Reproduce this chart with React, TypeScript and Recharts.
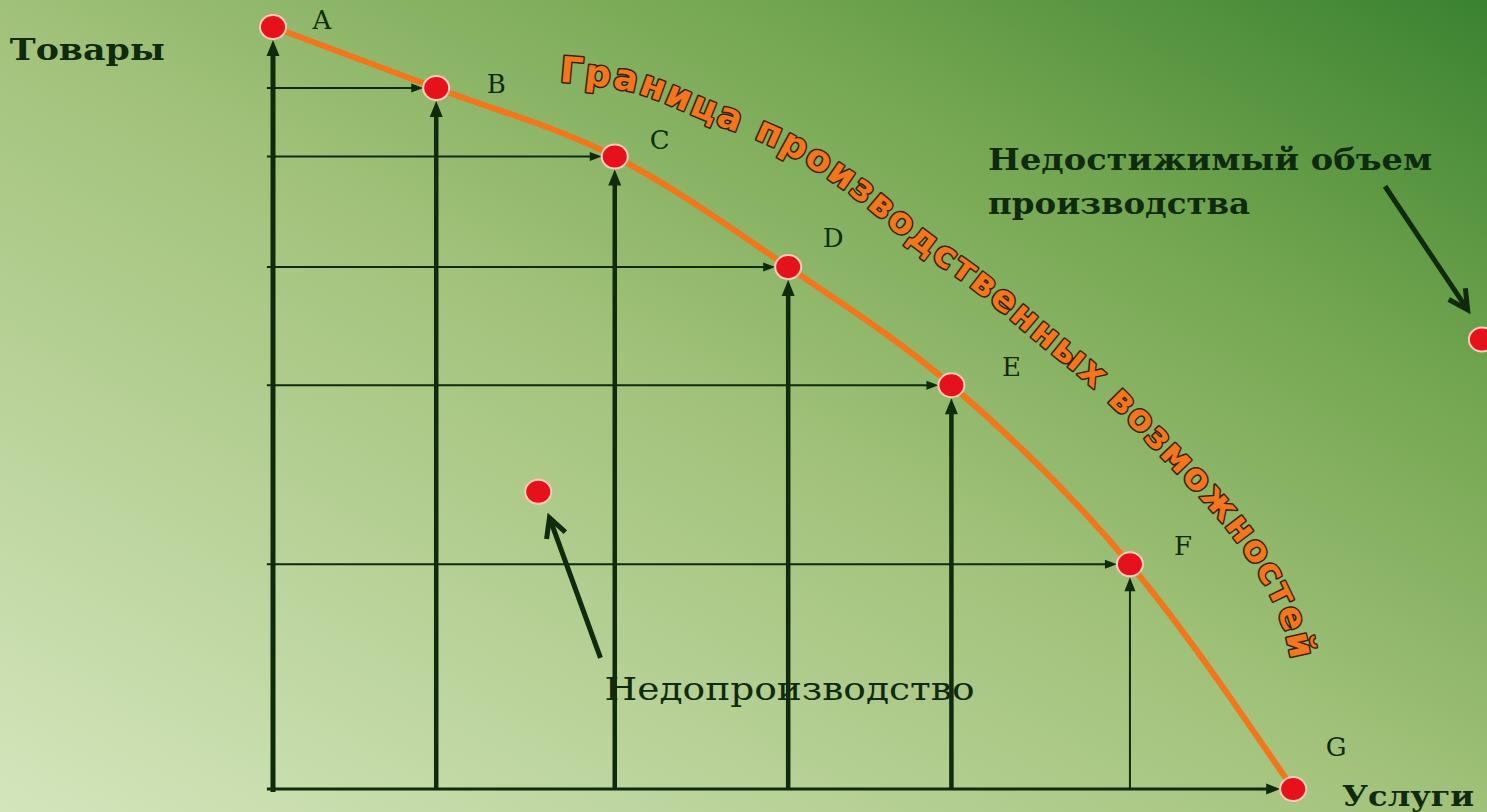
import React from 'react';
import { ComposedChart, Line, Scatter, XAxis, YAxis, ReferenceLine, LabelList } from 'recharts';

// ---------- data ----------
const pointNames = ['A', 'B', 'C', 'D', 'E', 'F', 'G'];
const servicesValues = [0, 1.6, 3.35, 5.05, 6.65, 8.4, 10];
const goodsValues = [10, 9.2, 8.3, 6.85, 5.3, 2.95, 0];

const offNames = ['inside', 'outside'];
const offServices = [2.6, 11.85];
const offGoods = [3.9, 5.9];

const frontierLabel = 'Граница производственных возможностей';
const labelPathX = [2.81, 3.0, 3.6, 4.28, 5.0, 5.69, 6.34, 6.96, 7.52, 8.14, 8.76, 9.31, 9.65, 9.9, 10.04, 10.12];
const labelPathY = [9.41, 9.4, 9.27, 8.91, 8.52, 7.95, 7.24, 6.64, 6.02, 5.33, 4.49, 3.7, 3.1, 2.52, 1.99, 1.45];

const noteTexts = ['Товары', 'Услуги', 'Недостижимый объем', 'производства', 'Недопроизводство'];
const noteX = [-2.58, 10.48, 7.01, 7.01, 3.25];
const noteY = [9.57, -0.22, 8.12, 7.55, 1.17];

const pointerFromX = [3.21, 10.9];
const pointerFromY = [1.72, 7.91];
const pointerToX = [2.71, 11.71];
const pointerToY = [3.56, 6.29];

// ---------- styling ----------
const DARK = '#0f2a0c';
const ORANGE = '#f1761c';
const NOTE_STYLE = [
  { fontSize: 30, fontWeight: 700, width: 155 },
  { fontSize: 28, fontWeight: 700, width: 132 },
  { fontSize: 30, fontWeight: 600, width: 444 },
  { fontSize: 30, fontWeight: 600, width: 262 },
  { fontSize: 32, fontWeight: 500, width: 370 },
];
const LETTER_NUDGE: Record<string, [number, number]> = {
  A: [49, -7], B: [60, -4], C: [45, -17], D: [45, -29], E: [60, -18], F: [53, -18], G: [43, -42],
};

const frontierData = pointNames.map((name, i) => ({ name, services: servicesValues[i], goods: goodsValues[i] }));
const offData = offNames.map((name, i) => ({ name, services: offServices[i], goods: offGoods[i] }));

type ArrowOpts = { width: number; head: number; headW: number; shortenEnd: number; open?: boolean };

const arrowShape = (o: ArrowOpts) => (p: any) => {
  const { x1, y1, x2, y2 } = p;
  const dx = x2 - x1;
  const dy = y2 - y1;
  const len = Math.hypot(dx, dy) || 1;
  const ux = dx / len;
  const uy = dy / len;
  const tx = x2 - ux * o.shortenEnd;
  const ty = y2 - uy * o.shortenEnd;
  const bx = tx - ux * o.head;
  const by = ty - uy * o.head;
  const nx = -uy;
  const ny = ux;
  const w = o.headW / 2;
  const pts = `${bx + nx * w},${by + ny * w} ${tx},${ty} ${bx - nx * w},${by - ny * w}`;
  return (
    <g>
      <line
        x1={x1}
        y1={y1}
        x2={o.open ? tx : bx + ux * 2}
        y2={o.open ? ty : by + uy * 2}
        stroke={DARK}
        strokeWidth={o.width}
      />
      {o.open ? (
        <polyline points={pts} fill="none" stroke={DARK} strokeWidth={o.width} strokeLinecap="butt" />
      ) : (
        <polygon points={pts} fill={DARK} />
      )}
    </g>
  );
};

const smoothPath = (pts: number[][]) => {
  let d = `M${pts[0][0]},${pts[0][1]}`;
  for (let i = 0; i < pts.length - 1; i++) {
    const p0 = pts[i - 1] || pts[i];
    const p1 = pts[i];
    const p2 = pts[i + 1];
    const p3 = pts[i + 2] || p2;
    const c1 = [p1[0] + (p2[0] - p0[0]) / 6, p1[1] + (p2[1] - p0[1]) / 6];
    const c2 = [p2[0] - (p3[0] - p1[0]) / 6, p2[1] - (p3[1] - p1[1]) / 6];
    d += ` C${c1[0]},${c1[1]} ${c2[0]},${c2[1]} ${p2[0]},${p2[1]}`;
  }
  return d;
};

const Overlay = (p: any) => {
  const { x1, y1, x2, y2 } = p;
  const sx = (v: number) => x1 + ((x2 - x1) * v) / 10;
  const sy = (v: number) => y1 + ((y2 - y1) * v) / 10;
  const centers = labelPathX.map((x, i) => [sx(x), sy(labelPathY[i])]);
  const base = centers.map((c, i) => {
    const a = centers[Math.max(0, i - 1)];
    const b = centers[Math.min(centers.length - 1, i + 1)];
    const l = Math.hypot(b[0] - a[0], b[1] - a[1]) || 1;
    const tx = (b[0] - a[0]) / l;
    const ty = (b[1] - a[1]) / l;
    return [c[0] - ty * 11, c[1] + tx * 11];
  });
  const arrow = arrowShape({ width: 5, head: 19, headW: 20, shortenEnd: 0, open: true });
  return (
    <g>
      <defs>
        <path id="frontier-label-path" d={smoothPath(base)} />
      </defs>
      <text
        fontFamily="'DejaVu Sans', Verdana, sans-serif"
        fontWeight={700}
        fontSize={36}
        letterSpacing={2.1}
        fill={ORANGE}
        stroke="#3a1e08"
        strokeWidth={3}
        paintOrder="stroke"
        strokeLinejoin="round"
      >
        <textPath href="#frontier-label-path">{frontierLabel}</textPath>
      </text>
      {noteTexts.map((t, i) => (
        <text
          key={t}
          x={sx(noteX[i])}
          y={sy(noteY[i])}
          fontFamily="'DejaVu Serif', 'Liberation Serif', serif"
          fontSize={NOTE_STYLE[i].fontSize}
          fontWeight={NOTE_STYLE[i].fontWeight}
          textLength={NOTE_STYLE[i].width}
          lengthAdjust="spacingAndGlyphs"
          fill={DARK}
        >
          {t}
        </text>
      ))}
      {pointerFromX.map((fx, i) => (
        <g key={i}>
          {arrow({ x1: sx(fx), y1: sy(pointerFromY[i]), x2: sx(pointerToX[i]), y2: sy(pointerToY[i]) })}
        </g>
      ))}
    </g>
  );
};

const renderDot = (props: any) => {
  const { cx, cy, index } = props;
  if (cx == null || cy == null) return <g key={`d${index}`} />;
  return <ellipse key={`d${index}`} cx={cx} cy={cy} rx={13} ry={12} fill="#e6121b" stroke="#ffcbbb" strokeWidth={2} />;
};

const renderScatterDot = (props: any) => {
  const { cx, cy } = props;
  return <ellipse cx={cx} cy={cy} rx={13} ry={12} fill="#e6121b" stroke="#ffcbbb" strokeWidth={2} />;
};

const renderLetter = (props: any) => {
  const { x, y, value } = props;
  const n = LETTER_NUDGE[value as string] || [45, -20];
  return (
    <text
      x={x + n[0]}
      y={y + n[1]}
      textAnchor="middle"
      dominantBaseline="central"
      fontFamily="'DejaVu Serif', 'Liberation Serif', serif"
      fontSize={26}
      fill={DARK}
    >
      {value}
    </text>
  );
};

const thickArrow = arrowShape({ width: 4.5, head: 16, headW: 13, shortenEnd: 13 });
const thinVertArrow = arrowShape({ width: 2, head: 14, headW: 11, shortenEnd: 13 });
const thinArrow = arrowShape({ width: 2, head: 12, headW: 9, shortenEnd: 13 });
const yAxisArrow = arrowShape({ width: 5, head: 16, headW: 13, shortenEnd: 13 });
const xAxisArrow = arrowShape({ width: 3, head: 14, headW: 11, shortenEnd: 13 });

export default function App() {
  const inner = frontierData.slice(1, -1);
  return (
    <div
      style={{
        width: 1487,
        height: 812,
        position: 'relative',
        overflow: 'hidden',
        background: 'linear-gradient(to top right, #d4e5bc 0%, #a3c37c 48%, #72a54f 76%, #3a8230 100%)',
      }}
    >
      <style>{'body{margin:0}'}</style>
      <ComposedChart width={1487} height={812} margin={{ top: 27, right: 0, bottom: 23, left: 273 }}>
        <XAxis type="number" dataKey="services" domain={[0, 11.9]} hide />
        <YAxis type="number" dataKey="goods" domain={[0, 10]} hide />
        <ReferenceLine
          segment={[{ x: 0, y: -0.04 }, { x: 0, y: goodsValues[0] }]}
          ifOverflow="visible"
          shape={yAxisArrow}
        />
        <ReferenceLine
          segment={[{ x: -0.06, y: 0 }, { x: servicesValues[servicesValues.length - 1], y: 0 }]}
          ifOverflow="visible"
          shape={xAxisArrow}
        />
        {inner.map((d, i) => (
          <ReferenceLine
            key={`v${d.name}`}
            segment={[{ x: d.services, y: 0 }, { x: d.services, y: d.goods }]}
            ifOverflow="visible"
            shape={i === inner.length - 1 ? thinVertArrow : thickArrow}
          />
        ))}
        {inner.map((d) => (
          <ReferenceLine
            key={`h${d.name}`}
            segment={[{ x: -0.06, y: d.goods }, { x: d.services, y: d.goods }]}
            ifOverflow="visible"
            shape={thinArrow}
          />
        ))}
        <ReferenceLine segment={[{ x: 0, y: 0 }, { x: 10, y: 10 }]} ifOverflow="visible" shape={Overlay} />
        <Line
          data={frontierData}
          dataKey="goods"
          type="monotone"
          stroke={ORANGE}
          strokeWidth={6}
          dot={renderDot}
          activeDot={false}
          isAnimationActive={false}
        >
          <LabelList dataKey="name" content={renderLetter} />
        </Line>
        <Scatter data={offData} dataKey="goods" shape={renderScatterDot} isAnimationActive={false} />
      </ComposedChart>
    </div>
  );
}
